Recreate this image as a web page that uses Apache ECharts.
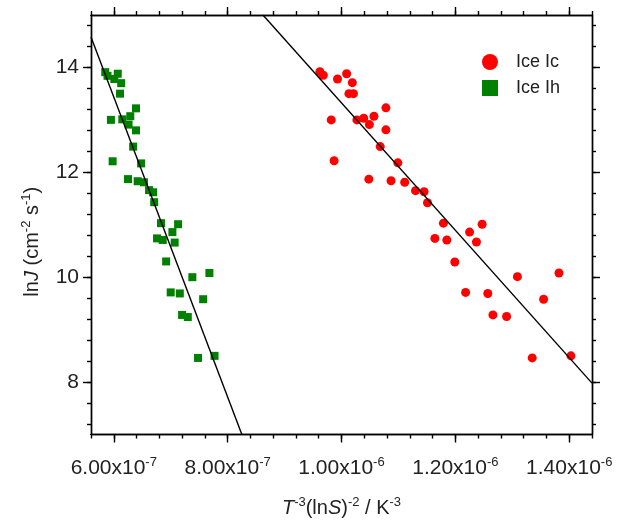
<!DOCTYPE html>
<html>
<head>
<meta charset="utf-8">
<script src="https://cdn.jsdelivr.net/npm/echarts@6/dist/echarts.min.js"></script>
<style>
  html, body { margin: 0; padding: 0; background: #fff; }
  #chart { width: 617px; height: 523px; }
</style>
</head>
<body>
<div id="chart"></div>
<script>
// Ice Ic (red circles)
const icX = [9.62e-7, 9.68e-7, 9.93e-7, 10.09e-7, 10.19e-7, 10.13e-7, 10.21e-7, 10.78e-7, 9.82e-7, 10.27e-7,
  10.39e-7, 10.57e-7, 10.49e-7, 10.78e-7, 10.68e-7, 9.87e-7, 10.99e-7, 10.48e-7, 10.87e-7, 11.11e-7,
  11.30e-7, 11.45e-7, 11.51e-7, 11.79e-7, 11.64e-7, 11.85e-7, 12.25e-7, 12.47e-7, 12.37e-7, 11.99e-7,
  13.09e-7, 13.82e-7, 12.18e-7, 12.57e-7, 13.55e-7, 12.66e-7, 12.90e-7, 13.35e-7, 14.03e-7];
const icY = [13.92, 13.85, 13.78, 13.88, 13.71, 13.50, 13.50, 13.23, 13.00, 13.00,
  13.03, 13.07, 12.91, 12.81, 12.49, 12.22, 12.18, 11.87, 11.84, 11.81,
  11.65, 11.63, 11.42, 11.03, 10.74, 10.71, 10.86, 11.01, 10.67, 10.29,
  10.01, 10.08, 9.71, 9.69, 9.58, 9.28, 9.25, 8.46, 8.50];

// Ice Ih (green squares)
const ihX = [5.85e-7, 5.89e-7, 6.01e-7, 6.07e-7, 6.13e-7, 6.11e-7, 6.39e-7, 5.95e-7, 6.15e-7, 6.29e-7,
  6.26e-7, 6.39e-7, 6.34e-7, 5.98e-7, 6.48e-7, 6.25e-7, 6.42e-7, 6.53e-7, 6.62e-7, 6.69e-7,
  6.71e-7, 6.83e-7, 7.13e-7, 7.03e-7, 6.76e-7, 6.86e-7, 7.07e-7, 6.92e-7, 7.38e-7, 7.68e-7,
  7.00e-7, 7.16e-7, 7.57e-7, 7.20e-7, 7.30e-7, 7.48e-7, 7.77e-7];
const ihY = [13.91, 13.84, 13.78, 13.88, 13.70, 13.50, 13.22, 13.00, 13.01, 13.07,
  12.91, 12.80, 12.49, 12.21, 12.17, 11.87, 11.83, 11.81, 11.66, 11.62,
  11.43, 11.03, 11.01, 10.86, 10.74, 10.71, 10.66, 10.30, 10.00, 10.08,
  9.71, 9.69, 9.58, 9.28, 9.24, 8.46, 8.50];

// fitted lines (end points at the frame)
const icFitX = [8.62e-7, 1.44e-6];
const icFitY = [15.0, 7.98];
const ihFitX = [5.6e-7, 8.25e-7];
const ihFitY = [14.58, 7.0];

// axes
const xMin = 5.6e-7, xMax = 1.44e-6;
const yMin = 7, yMax = 15;
const xMajorTicks = [6e-7, 8e-7, 1e-6, 1.2e-6, 1.4e-6];
const yMajorTicks = [8, 10, 12, 14];
const xMinorTicks = [];
for (let k = 14; k <= 36; k++) xMinorTicks.push(k * 4e-8);
const yMinorTicks = [];
for (let k = 18; k <= 37; k++) yMinorTicks.push(k * 0.4);

const zip = (a, b) => a.map((v, i) => [v, b[i]]);
const lineStyle = { color: '#000', width: 1.4 };
const font = 'Liberation Sans';

const sci = (v) => {
  const e = Math.floor(Math.log10(v) + 1e-9);
  const m = (v / Math.pow(10, e)).toFixed(2);
  return '{b|' + m + 'x10}{s|' + e + '}';
};

const supStyle = { fontSize: 13, fontFamily: font, color: '#222', verticalAlign: 'top', padding: [0, 0, 12, 0] };

const xAx = (pos, ticks, len, labels, extra) => Object.assign({
  type: 'value', position: pos, min: xMin, max: xMax, gridIndex: 0,
  splitLine: { show: false },
  axisLine: { show: true, onZero: false, lineStyle: lineStyle },
  axisTick: { show: true, customValues: ticks, length: len, lineStyle: lineStyle },
  axisLabel: labels ? {
    customValues: xMajorTicks, margin: 21, color: '#000', formatter: sci,
    rich: {
      b: { fontSize: 21, fontFamily: font, color: '#222' },
      s: supStyle
    }
  } : { show: false }
}, extra || {});

const yAx = (pos, ticks, len, labels) => ({
  type: 'value', position: pos, min: yMin, max: yMax, gridIndex: 0,
  splitLine: { show: false },
  axisLine: { show: true, onZero: false, lineStyle: lineStyle },
  axisTick: { show: true, customValues: ticks, length: len, lineStyle: lineStyle },
  axisLabel: labels ? {
    customValues: yMajorTicks, margin: 12, color: '#222', fontSize: 21, fontFamily: font
  } : { show: false }
});

const titleRich = {
  n: { fontSize: 20, fontFamily: font, color: '#222' },
  i: { fontSize: 20, fontFamily: font, fontStyle: 'italic', color: '#222' },
  s: supStyle
};

const chart = echarts.init(document.getElementById('chart'));
chart.setOption({
  animation: false,
  backgroundColor: '#fff',
  grid: { left: 91, right: 25, top: 15, bottom: 84, containLabel: false },
  legend: {
    left: 477, top: 48, orient: 'vertical', itemWidth: 16, itemHeight: 16, itemGap: 8,
    textStyle: { fontSize: 18, fontFamily: font, color: '#222', padding: [0, 0, 0, 13] },
    data: [{ name: 'Ice Ic', icon: 'circle' }, { name: 'Ice Ih', icon: 'rect' }]
  },
  xAxis: [
    xAx('bottom', xMajorTicks, 8, true, {
      name: '{i|T}{s|-3}{n|(ln}{i|S}{n|)}{s|-2}{n| / K}{s|-3}',
      nameLocation: 'middle', nameGap: 61,
      nameTextStyle: { rich: titleRich }
    }),
    xAx('bottom', xMinorTicks, 4, false),
    xAx('top', xMajorTicks, 8, false),
    xAx('top', xMinorTicks, 4, false)
  ],
  yAxis: [
    Object.assign(yAx('left', yMajorTicks, 8, true), {
      name: '{n|ln}{i|J}{n| (cm}{s|-2}{n| s}{s|-1}{n|)}',
      nameLocation: 'middle', nameGap: 46, nameRotate: 90,
      nameTextStyle: { padding: [0, 34, 0, 0], rich: titleRich }
    }),
    yAx('left', yMinorTicks, 4, false),
    yAx('right', yMajorTicks, 8, false),
    yAx('right', yMinorTicks, 4, false)
  ],
  series: [
    {
      name: 'Ice Ic', type: 'scatter', symbol: 'circle', symbolSize: 9,
      itemStyle: { color: '#ff0000', opacity: 1 }, data: zip(icX, icY), z: 3
    },
    {
      name: 'Ice Ih', type: 'scatter', symbol: 'rect', symbolSize: 8,
      itemStyle: { color: '#008000', opacity: 1 }, data: zip(ihX, ihY), z: 3
    },
    {
      name: 'Ic fit', type: 'line', showSymbol: false, symbol: 'none', data: zip(icFitX, icFitY),
      lineStyle: lineStyle, z: 4
    },
    {
      name: 'Ih fit', type: 'line', showSymbol: false, symbol: 'none', data: zip(ihFitX, ihFitY),
      lineStyle: lineStyle, z: 4
    }
  ]
});
</script>
</body>
</html>
